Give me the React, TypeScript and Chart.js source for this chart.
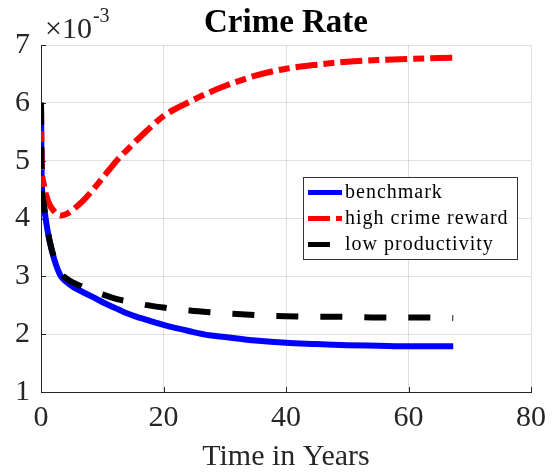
import React, { useEffect, useRef } from "react";
import { Chart, registerables } from "chart.js";

Chart.register(...registerables);

// ---- Data (crime rate in units of 10^-3) ----
const timeYears = [0, 0.1, 0.4, 0.8, 1.4, 2.2, 3.2, 4.2, 5.3, 6.8, 8.5, 10.5, 12.6, 14, 16.2, 20, 24.3, 27.5, 30, 35, 40, 45, 50, 55, 60, 67.3];
const benchmark = [6.0, 4.72, 4.28, 3.97, 3.61, 3.28, 3.01, 2.9, 2.81, 2.73, 2.64, 2.53, 2.43, 2.36, 2.28, 2.16, 2.05, 1.98, 1.95, 1.89, 1.85, 1.83, 1.81, 1.8, 1.79, 1.79];
const highCrimeReward = [6.0, 5.0, 4.62, 4.42, 4.24, 4.12, 4.05, 4.08, 4.16, 4.3, 4.5, 4.76, 5.03, 5.18, 5.41, 5.77, 6.02, 6.18, 6.29, 6.47, 6.59, 6.66, 6.71, 6.74, 6.76, 6.78];
const lowProductivity = [6.0, 4.72, 4.28, 3.97, 3.62, 3.3, 3.06, 2.96, 2.89, 2.82, 2.74, 2.67, 2.6, 2.57, 2.52, 2.46, 2.41, 2.38, 2.36, 2.33, 2.31, 2.3, 2.3, 2.29, 2.29, 2.28];

const seriesLabels = ["benchmark", "high crime reward", "low productivity"];
const xTicks = [0, 20, 40, 60, 80];
const yTicks = [1, 2, 3, 4, 5, 6, 7];
const chartTitle = "Crime Rate";
const xAxisLabel = "Time in Years";
const exponentBase = "\u00d710";
const exponentPower = "-3";

const SERIF = '"Liberation Serif", "Times New Roman", serif';
const AXIS_COLOR = "#262626";
const GRID_COLOR = "rgba(38,38,38,0.15)";

const toPoints = (ys: number[]) => timeYears.map((t, i) => ({ x: t, y: ys[i] }));

const tickPlugin = {
  id: "inwardTicks",
  beforeDatasetsDraw(chart: any) {
    const { ctx, chartArea: a, scales } = chart;
    ctx.save();
    ctx.strokeStyle = AXIS_COLOR;
    ctx.lineWidth = 1;
    ctx.beginPath();
    yTicks.forEach((v) => {
      const py = Math.round(scales.y.getPixelForValue(v)) + 0.5;
      ctx.moveTo(a.left, py);
      ctx.lineTo(a.left + 5, py);
    });
    xTicks.forEach((v) => {
      const px = Math.round(scales.x.getPixelForValue(v)) + 0.5;
      ctx.moveTo(px, a.bottom);
      ctx.lineTo(px, a.bottom - 5);
    });
    ctx.stroke();
    ctx.restore();
  },
};

const decorPlugin = {
  id: "decor",
  afterDraw(chart: any) {
    const { ctx, chartArea: a } = chart;
    const cx = (a.left + a.right) / 2;
    ctx.save();
    ctx.fillStyle = "#000";
    // title
    ctx.font = `bold 33px ${SERIF}`;
    ctx.textAlign = "center";
    ctx.textBaseline = "alphabetic";
    ctx.fillText(chartTitle, cx, 32);
    // x axis label
    ctx.fillStyle = AXIS_COLOR;
    ctx.font = `30px ${SERIF}`;
    ctx.fillText(xAxisLabel, cx, 465);
    // exponent
    ctx.textAlign = "left";
    ctx.font = `30px ${SERIF}`;
    const ex = a.left + 4;
    ctx.fillText(exponentBase, ex, 38);
    const w = ctx.measureText(exponentBase).width;
    ctx.font = `20px ${SERIF}`;
    ctx.fillText(exponentPower, ex + w + 1, 22);

    // legend
    const bw = 214, bh = 82;
    const bx = a.right - 228, by = a.top + 132;
    ctx.fillStyle = "#fff";
    ctx.fillRect(bx, by, bw, bh);
    ctx.strokeStyle = "#333";
    ctx.lineWidth = 1;
    ctx.strokeRect(Math.round(bx) + 0.5, Math.round(by) + 0.5, bw, bh);
    const rowBase = [21, 47, 73];
    chart.data.datasets.forEach((ds: any, i: number) => {
      const base = by + rowBase[i];
      const ly = base - 5.5;
      ctx.save();
      ctx.strokeStyle = ds.borderColor;
      ctx.lineWidth = 5;
      ctx.lineCap = "butt";
      ctx.setLineDash(ds.borderDash || []);
      ctx.beginPath();
      ctx.moveTo(bx + 5, ly);
      ctx.lineTo(bx + 39, ly);
      ctx.stroke();
      ctx.restore();
      ctx.fillStyle = "#000";
      ctx.font = `20px ${SERIF}`;
      try { (ctx as any).letterSpacing = "1px"; } catch (e) {}
      ctx.textAlign = "left";
      ctx.textBaseline = "alphabetic";
      ctx.fillText(ds.label, bx + 42, base);
      try { (ctx as any).letterSpacing = "0px"; } catch (e) {}
    });
    ctx.restore();
  },
};

export default function App() {
  const canvasRef = useRef<HTMLCanvasElement | null>(null);

  useEffect(() => {
    document.body.style.margin = "0";
    const canvas = canvasRef.current;
    if (!canvas) return;
    const chart = new Chart(canvas, {
      type: "line",
      data: {
        datasets: [
          {
            label: seriesLabels[0],
            data: toPoints(benchmark),
            borderColor: "#0000ff",
            borderWidth: 6,
            pointRadius: 0,
            cubicInterpolationMode: "monotone",
            order: 3,
            fill: false,
          },
          {
            label: seriesLabels[1],
            data: toPoints(highCrimeReward),
            borderColor: "#ff0000",
            borderWidth: 6,
            borderDash: [22, 6, 11, 6],
            borderCapStyle: "butt",
            pointRadius: 0,
            cubicInterpolationMode: "monotone",
            order: 2,
            fill: false,
          },
          {
            label: seriesLabels[2],
            data: toPoints(lowProductivity),
            borderColor: "#000000",
            borderWidth: 6,
            borderDash: [22, 22],
            borderCapStyle: "butt",
            pointRadius: 0,
            cubicInterpolationMode: "monotone",
            order: 1,
            fill: false,
          },
        ],
      } as any,
      options: {
        animation: false,
        responsive: false,
        devicePixelRatio: 1,
        layout: { padding: { left: 0, top: 45, right: 28, bottom: 0 } },
        plugins: {
          legend: { display: false },
          title: { display: false },
          tooltip: { enabled: false },
        },
        scales: {
          x: {
            type: "linear",
            min: 0,
            max: 80,
            afterBuildTicks: (s: any) => {
              s.ticks = xTicks.map((v) => ({ value: v }));
            },
            afterFit: (s: any) => {
              s.height = 82;
            },
            ticks: {
              color: AXIS_COLOR,
              font: { family: SERIF, size: 30 },
              padding: 8,
              maxRotation: 0,
              autoSkip: false,
            },
            grid: { color: GRID_COLOR, lineWidth: 1, drawTicks: false },
            border: { color: AXIS_COLOR, width: 1 },
          },
          y: {
            type: "linear",
            min: 1,
            max: 7,
            afterBuildTicks: (s: any) => {
              s.ticks = yTicks.map((v) => ({ value: v }));
            },
            afterFit: (s: any) => {
              s.width = 41;
            },
            ticks: {
              color: AXIS_COLOR,
              font: { family: SERIF, size: 30 },
              padding: 11,
              autoSkip: false,
            },
            grid: { color: GRID_COLOR, lineWidth: 1, drawTicks: false },
            border: { color: AXIS_COLOR, width: 1 },
          },
        },
      } as any,
      plugins: [tickPlugin, decorPlugin],
    });
    return () => chart.destroy();
  }, []);

  return (
    <div style={{ position: "absolute", left: 0, top: 0, width: 559, height: 474, background: "#fff" }}>
      <canvas ref={canvasRef} width={559} height={474} style={{ display: "block" }} />
    </div>
  );
}
